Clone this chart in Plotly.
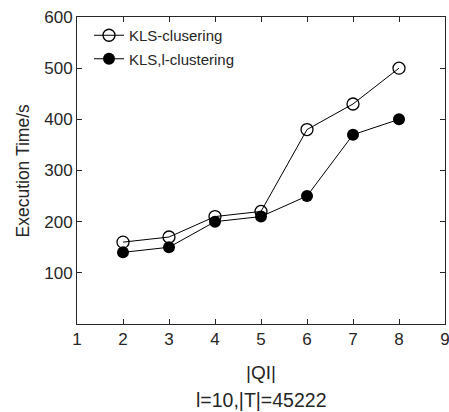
import plotly.graph_objects as go

qi = [2, 3, 4, 5, 6, 7, 8]
kls_clusering = [160, 170, 210, 220, 380, 430, 500]
kls_l_clustering = [140, 150, 200, 210, 250, 370, 400]
x_ticks = [1, 2, 3, 4, 5, 6, 7, 8, 9]
y_ticks = [100, 200, 300, 400, 500, 600]

font = "Liberation Sans, Arial, sans-serif"
ink = "#262626"

fig = go.Figure()
fig.add_trace(go.Scatter(
    x=qi, y=kls_clusering, mode="lines+markers", name="KLS-clusering",
    legendgroup="a",
    line=dict(color="black", width=1),
    marker=dict(symbol="circle-open", size=12, color="black", line=dict(width=1.3)),
))
fig.add_trace(go.Scatter(
    x=qi, y=kls_l_clustering, mode="lines+markers", name="KLS,l-clustering",
    legendgroup="b",
    line=dict(color="black", width=1),
    marker=dict(symbol="circle", size=12, color="black"),
))

axis_common = dict(
    showline=True, linecolor=ink, linewidth=1, mirror="ticks",
    ticks="inside", ticklen=5, tickcolor=ink, showgrid=False, zeroline=False,
    tickfont=dict(family=font, size=17, color=ink),
    ticklabeloverflow="allow", automargin=False,
)
fig.update_xaxes(range=[1, 9], tickvals=x_ticks, **axis_common)
fig.update_yaxes(range=[0, 600], tickvals=y_ticks, **axis_common)

plot_h = 412 - 17 - 88
plot_w = 449 - 77 - 4

fig.update_layout(
    width=449, height=412,
    margin=dict(l=77, r=4, t=17, b=88),
    paper_bgcolor="white", plot_bgcolor="white",
    font=dict(family=font, color=ink),
    showlegend=True,
    legend=dict(x=12 / plot_w, y=1 - 2 / plot_h, xanchor="left", yanchor="top",
                bgcolor="rgba(0,0,0,0)", font=dict(family=font, size=15, color=ink),
                traceorder="grouped", tracegroupgap=1),
)
fig.add_annotation(text="Execution Time/s", x=(22 - 77) / plot_w, y=0.5, xref="paper", yref="paper",
                   xanchor="center", yanchor="middle", textangle=-90, showarrow=False,
                   font=dict(family=font, size=17.5, color=ink))
fig.add_annotation(text="|QI|", x=0.5, y=(324 - 372) / plot_h, xref="paper", yref="paper",
                   yanchor="middle", showarrow=False, font=dict(family=font, size=19, color=ink))
fig.add_annotation(text="l=10,|T|=45222", x=0.5, y=(324 - 400) / plot_h, xref="paper", yref="paper",
                   yanchor="middle", showarrow=False, font=dict(family=font, size=19.5, color=ink))

fig.write_html("out.html", config={"displayModeBar": False},
               post_script="document.body.style.margin='0';")
